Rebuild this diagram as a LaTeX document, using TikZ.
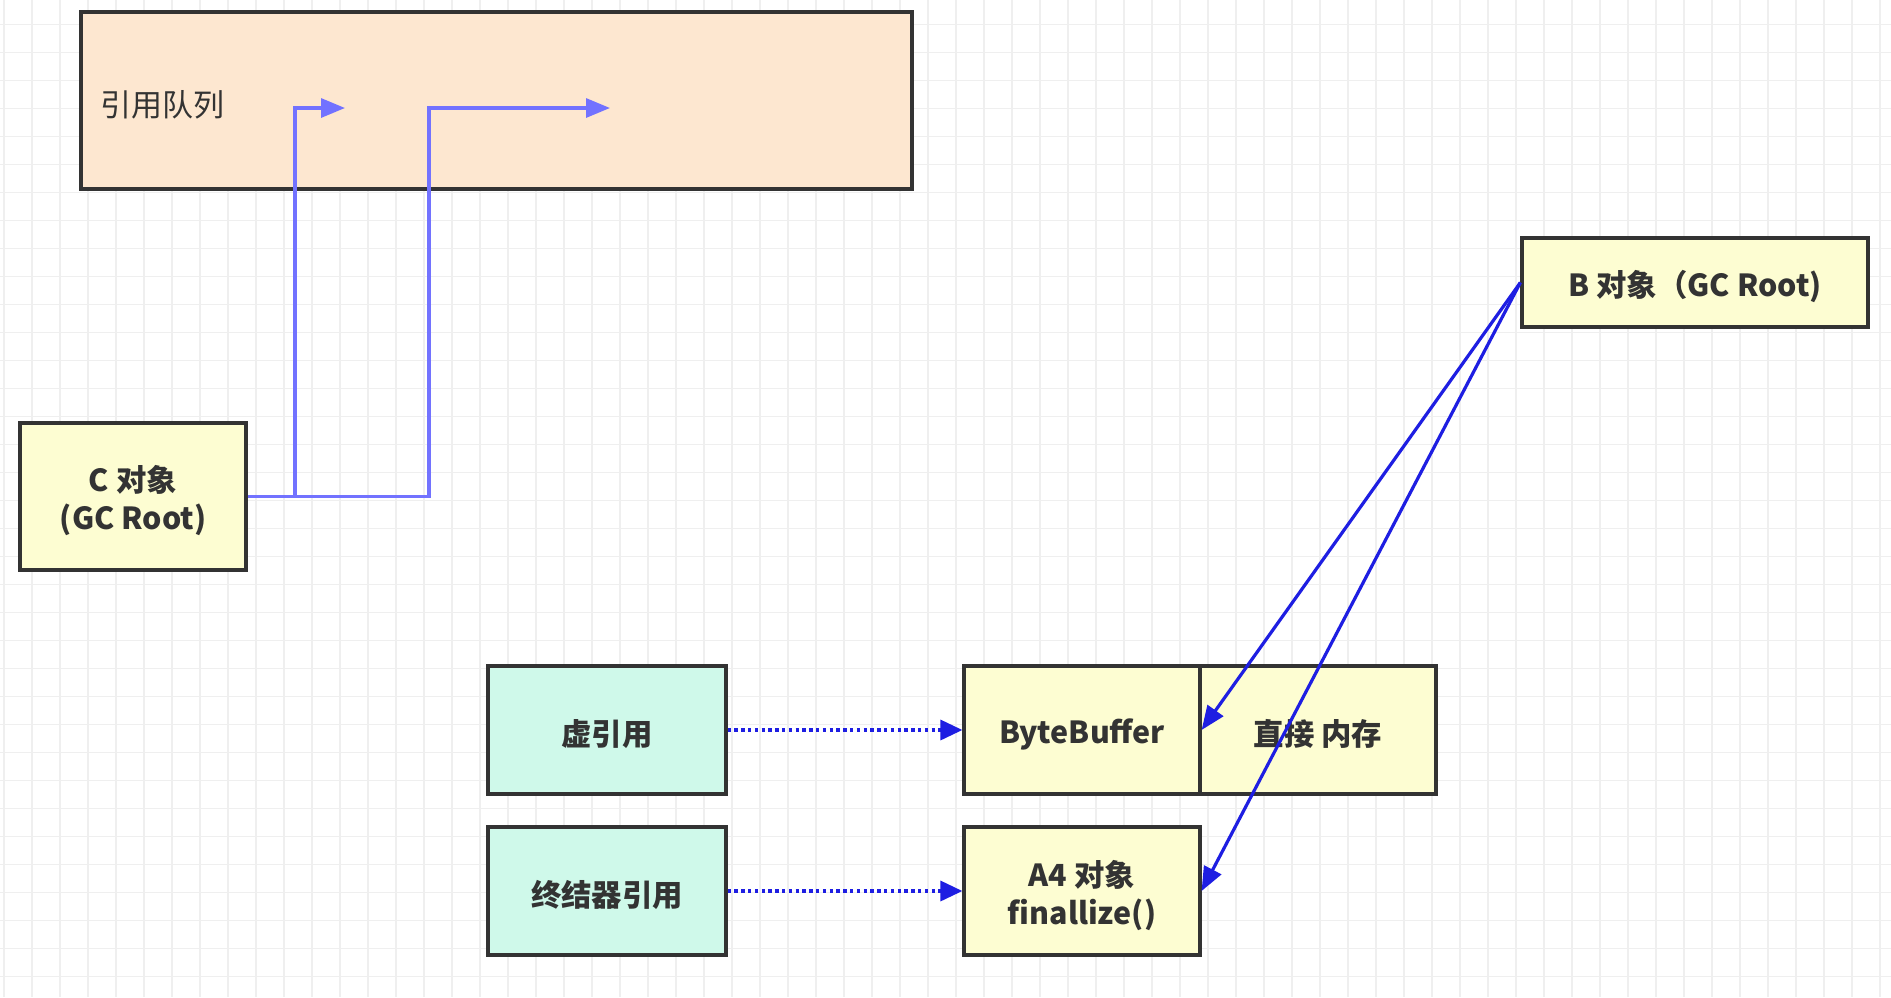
\documentclass[tikz,border=0pt]{standalone}
\usepackage{fontspec}
\setmainfont{Noto Sans CJK SC}
\usetikzlibrary{arrows.meta}
\definecolor{queuefill}{HTML}{FDE7D0}
\definecolor{objfill}{HTML}{FDFDD2}
\definecolor{reffill}{HTML}{CFF9EA}
\definecolor{boxline}{HTML}{333333}
\definecolor{queueblue}{HTML}{7272FF}
\definecolor{refblue}{HTML}{1E1EE2}
\definecolor{gridgray}{HTML}{EFEFEF}
% lower a line of box text a little, keeping its box size
\newcommand\nudge[1]{\raisebox{-2.2pt}[\height][\depth]{#1}}

\tikzset{
  objbox/.style={draw=boxline, line width=1.6pt, fill=objfill, inner sep=0pt,
    align=center, text=boxline, font=\fontsize{15.2pt}{19pt}\selectfont\bfseries},
  refbox/.style={objbox, fill=reffill},
  queueline/.style={queueblue, line width=1.6pt, -{Triangle[length=12pt,width=9.5pt]}},
  rootline/.style={refblue, line width=1.6pt, -{Triangle[length=12pt,width=9.5pt]}},
  weakline/.style={refblue, line width=1.7pt, dash pattern=on 1.7pt off 1.7pt,
    -{Triangle[length=11pt,width=10pt]}}
}

\begin{document}
\begin{tikzpicture}[x=0.5pt, y=-0.5pt]
  \useasboundingbox (0,0) rectangle (1891,997);
  \fill[white] (0,0) rectangle (1891,997);
  % background grid
  \foreach \gx in {0,...,67} \draw[gridgray, line width=0.8pt] (4+28*\gx,0) -- (4+28*\gx,997);
  \foreach \gy in {0,...,35} \draw[gridgray, line width=0.8pt] (0,24.5+28*\gy) -- (1891,24.5+28*\gy);

  % queue
  \node[draw=boxline, line width=1.6pt, fill=queuefill, minimum width=415.5pt,
    minimum height=88.5pt, inner sep=0pt] (queue) at (496.5,100.5) {};
  \node[anchor=west, text=boxline, inner sep=0pt, font=\fontsize{15.5pt}{18pt}\selectfont]
    (queuelabel) at (100,105) {引用队列};

  % roots
  \node[objbox, minimum width=113pt, minimum height=73.5pt] (croot) at (133,496.5)
    {\nudge{C 对象}\\\nudge{(GC Root)}};
  \node[objbox, minimum width=173pt, minimum height=44.5pt] (broot) at (1695,282.5)
    {\nudge{B 对象（GC Root)}};

  % references and objects
  \node[refbox, minimum width=119pt, minimum height=64pt] (phantom) at (607,730) {\nudge{虚引用}};
  \node[refbox, minimum width=119pt, minimum height=64pt] (final) at (607,891) {\nudge{终结器引用}};
  \node[objbox, minimum width=118pt, minimum height=64pt] (buffer) at (1082,730) {\nudge{ByteBuffer}};
  \node[objbox, minimum width=118pt, minimum height=64pt] (direct) at (1318,730) {\nudge{直接 内存}};
  \node[objbox, minimum width=118pt, minimum height=64pt] (afour) at (1082,891)
    {\nudge{A4 对象}\\\nudge{finallize()}};

  % into the queue
  \coordinate (turna) at (295,108);
  \coordinate (qa) at (345,108);
  \coordinate (turnb) at (429,108);
  \coordinate (qb) at (610,108);
  \draw[queueline] (croot.east) -| (turnb) -- (qb);
  \draw[queueline] (croot.east -| turna) -- (turna) -- (qa);

  % dotted references
  \draw[weakline] (phantom.east) -- (buffer.west);
  \draw[weakline] (final.east) -- (afour.west);

  % from B
  \draw[rootline] (broot.west) -- (buffer.east);
  \draw[rootline] (broot.west) -- (afour.east);
\end{tikzpicture}
\end{document}
